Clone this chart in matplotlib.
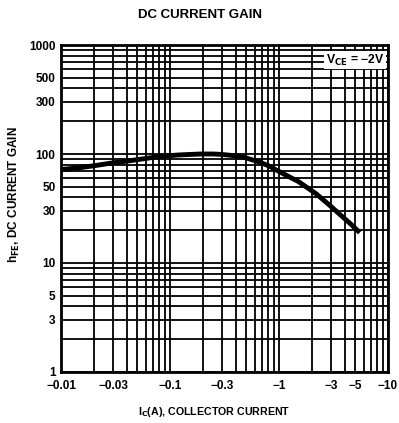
import matplotlib
matplotlib.use("Agg")
import matplotlib.pyplot as plt
import numpy as np
from matplotlib.ticker import FixedLocator, FixedFormatter, LogLocator, NullFormatter

# Data (|Ic| in A, hFE)
ic_abs = [0.01, 0.015, 0.02, 0.03, 0.04, 0.06, 0.08, 0.12, 0.19, 0.25, 0.3, 0.41,
          0.5, 0.67, 0.8, 1.09, 1.5, 2.2, 3.0, 3.6, 4.5, 5.5]
hfe = [72, 75, 78, 83, 86, 91, 95, 98, 100, 100, 99, 96,
       92, 84, 78, 66, 56, 43, 33, 28, 23, 19]

x_ticks = [0.01, 0.03, 0.1, 0.3, 1, 3, 5, 10]
x_labels = ["\u22120.01", "\u22120.03", "\u22120.1", "\u22120.3", "\u22121", "\u22123", "\u22125", "\u221210"]
y_ticks = [1, 3, 5, 10, 30, 50, 100, 300, 500, 1000]
y_labels = ["1", "3", "5", "10", "30", "50", "100", "300", "500", "1000"]

plt.rcParams['font.family'] = ['Liberation Sans', 'DejaVu Sans']

fig = plt.figure(figsize=(3.99, 4.23), dpi=100)
ax = fig.add_axes([0.153, 0.1206, 0.8195, 0.773])
ax.set_xscale('log')
ax.set_yscale('log')
ax.set_xlim(0.01, 10)
ax.set_ylim(1, 1000)

ax.xaxis.set_major_locator(FixedLocator(x_ticks))
ax.xaxis.set_major_formatter(FixedFormatter(x_labels))
ax.yaxis.set_major_locator(FixedLocator(y_ticks))
ax.yaxis.set_major_formatter(FixedFormatter(y_labels))
ax.xaxis.set_minor_locator(LogLocator(base=10, subs=np.arange(1, 10)))
ax.yaxis.set_minor_locator(LogLocator(base=10, subs=np.arange(1, 10)))
ax.xaxis.set_minor_formatter(NullFormatter())
ax.yaxis.set_minor_formatter(NullFormatter())

ax.grid(True, which='both', color='black', linewidth=1.3)
ax.set_axisbelow(True)
ax.tick_params(axis='x', which='both', length=0, labelsize=8.5, pad=6)
ax.tick_params(axis='y', which='both', length=0, labelsize=8.5, pad=4)
for lab in ax.get_xticklabels() + ax.get_yticklabels():
    lab.set_fontweight('bold')
for s in ax.spines.values():
    s.set_linewidth(2)
    s.set_color('black')

ax.plot(ic_abs, hfe, color='black', linewidth=3.5, solid_capstyle='butt', zorder=3)

ax.text(0.99, 0.954, "V$_{\\mathbf{CE}}$ = \u22122V", transform=ax.transAxes, ha='right', va='center',
        fontsize=8.8, fontweight='bold',
        bbox=dict(facecolor='white', edgecolor='none', pad=1.2), zorder=4)

fig.text(0.5, 0.965, "DC CURRENT GAIN", ha='center', va='center', fontsize=9.5, fontweight='bold')
fig.text(0.538, 0.026, "I$_{\\mathbf{C}}$(A), COLLECTOR CURRENT", ha='center', va='center', fontsize=7.7, fontweight='bold')
fig.text(0.035, 0.541, "h$_{\\mathbf{FE}}$, DC CURRENT GAIN", ha='center', va='center', rotation=90, fontsize=8.5, fontweight='bold')

fig.savefig("out.png", dpi=100)
